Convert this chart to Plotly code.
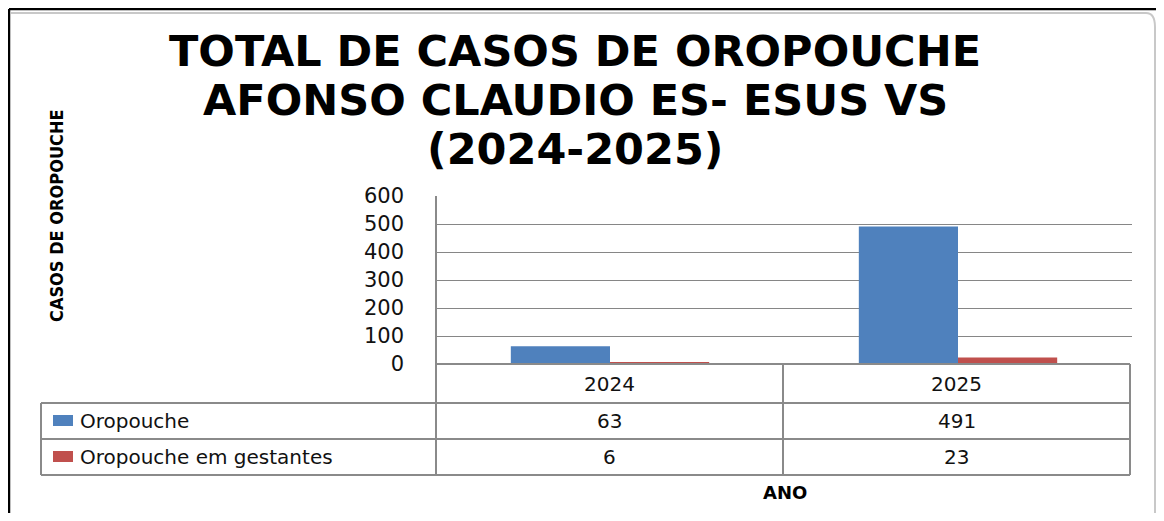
import plotly.graph_objects as go

# ---- data ----
categories = ["2024", "2025"]
series_names = ["Oropouche", "Oropouche em gestantes"]
oropouche = [63, 491]
gestantes = [6, 23]
series_values = [oropouche, gestantes]
series_colors = ["#4F81BD", "#C0504D"]
y_ticks = [0, 100, 200, 300, 400, 500, 600]
title_lines = ["TOTAL DE CASOS DE OROPOUCHE", "AFONSO CLAUDIO ES- ESUS VS", "(2024-2025)"]
y_title = "CASOS DE OROPOUCHE"
x_title = "ANO"

OFF = 8  # page body margin
W, H = 1164 - 2 * OFF, 521 - 2 * OFF
def X(px):
    return (px - OFF) / W
def Y(py):
    return 1 - (py - OFF) / H

fig = go.Figure()
for name, vals, col in zip(series_names, series_values, series_colors):
    fig.add_trace(go.Bar(x=categories, y=vals, name=name, marker=dict(color=col, line=dict(width=0)),
                         showlegend=False))

PL, PR, PT, PB = 436, 1132, 196, 364
fig.update_layout(
    template="none",
    width=W, height=H,
    margin=dict(l=0, r=0, t=0, b=0, autoexpand=False),
    paper_bgcolor="white", plot_bgcolor="white",
    showlegend=False,
    barmode="group", bargap=0.43, bargroupgap=0,
    xaxis=dict(domain=[X(PL), X(PR)], showticklabels=False, showgrid=False, zeroline=False,
               showline=False, ticks="", automargin=False),
    yaxis=dict(domain=[Y(PB), Y(PT)], range=[0, 600], tickvals=y_ticks, showgrid=True,
               gridcolor="#868686", gridwidth=1, zeroline=False, showline=False, ticks="",
               ticklabelstandoff=31, automargin=False,
               tickfont=dict(family="DejaVu Sans", size=21, color="#111111")),
    font=dict(family="DejaVu Sans"),
)

shapes = []
GRAY = "#8a8a8a"
def hline(y, x0, x1, color=GRAY, w=2):
    shapes.append(dict(type="line", xref="paper", yref="paper", x0=X(x0), x1=X(x1), y0=Y(y), y1=Y(y),
                       line=dict(color=color, width=w)))
def vline(x, y0, y1, color=GRAY, w=2):
    shapes.append(dict(type="line", xref="paper", yref="paper", x0=X(x), x1=X(x), y0=Y(y0), y1=Y(y1),
                       line=dict(color=color, width=w)))

# data table grid
row_y = [364, 403, 439, 475]
TL, TR, TM = 41, 1130, 783
hline(row_y[0], PL, TR)
for yy in row_y[1:]:
    hline(yy, TL, TR)
vline(TL, row_y[1], row_y[3])
vline(PL, PT, row_y[3])
vline(TM, row_y[0], row_y[3])
vline(TR, row_y[0], row_y[3])

# outer frame
hline(9, 9, 1164, color="black", w=2.5)
vline(9, 9, 521, color="black", w=2.5)
path = f"M {X(11)} {Y(13)} L {X(1146)} {Y(13)} Q {X(1155)} {Y(13)} {X(1155)} {Y(27)} L {X(1155)} {Y(521)}"
shapes.append(dict(type="path", xref="paper", yref="paper", path=path,
                   line=dict(color="#c8c8c8", width=2)))

# legend keys in table
key_rows = [(row_y[1] + row_y[2]) / 2, (row_y[2] + row_y[3]) / 2]
for ky, col in zip(key_rows, series_colors):
    shapes.append(dict(type="rect", xref="paper", yref="paper", x0=X(53), x1=X(73),
                       y0=Y(ky + 5), y1=Y(ky - 6), fillcolor=col, line=dict(width=0)))

fig.update_layout(shapes=shapes)

ann = []
txt_font = dict(family="DejaVu Sans", size=20, color="#111111")
col_centers = [(PL + TM) / 2, (TM + TR) / 2]
for cx, cat in zip(col_centers, categories):
    ann.append(dict(x=X(cx), y=Y((row_y[0] + row_y[1]) / 2), text=cat, showarrow=False,
                    xref="paper", yref="paper", xanchor="center", yanchor="middle", font=txt_font))
for ky, name, vals in zip(key_rows, series_names, series_values):
    ann.append(dict(x=X(78), y=Y(ky), text=name, showarrow=False, xref="paper", yref="paper",
                    xanchor="left", yanchor="middle", font=txt_font))
    for cx, v in zip(col_centers, vals):
        ann.append(dict(x=X(cx), y=Y(ky), text=str(v), showarrow=False, xref="paper", yref="paper",
                        xanchor="center", yanchor="middle", font=txt_font))

for line, ly in zip(title_lines, [51, 100, 149]):
    ann.append(dict(x=X(575), y=Y(ly), text=f"<b>{line}</b>", showarrow=False, xref="paper", yref="paper",
                    xanchor="center", yanchor="middle",
                    font=dict(family="DejaVu Sans", size=43, color="black")))

ann.append(dict(x=X(57), y=Y(216), text=f"<b>{y_title}</b>", textangle=-90, showarrow=False,
                xref="paper", yref="paper", xanchor="center", yanchor="middle",
                font=dict(family="DejaVu Sans Condensed, Liberation Sans Narrow, sans-serif", size=18, color="black")))
ann.append(dict(x=X(785), y=Y(492), text=f"<b>{x_title}</b>", showarrow=False, xref="paper", yref="paper",
                xanchor="center", yanchor="middle", font=dict(family="DejaVu Sans", size=18, color="black")))

fig.update_layout(annotations=ann)
fig.write_html("out.html")
